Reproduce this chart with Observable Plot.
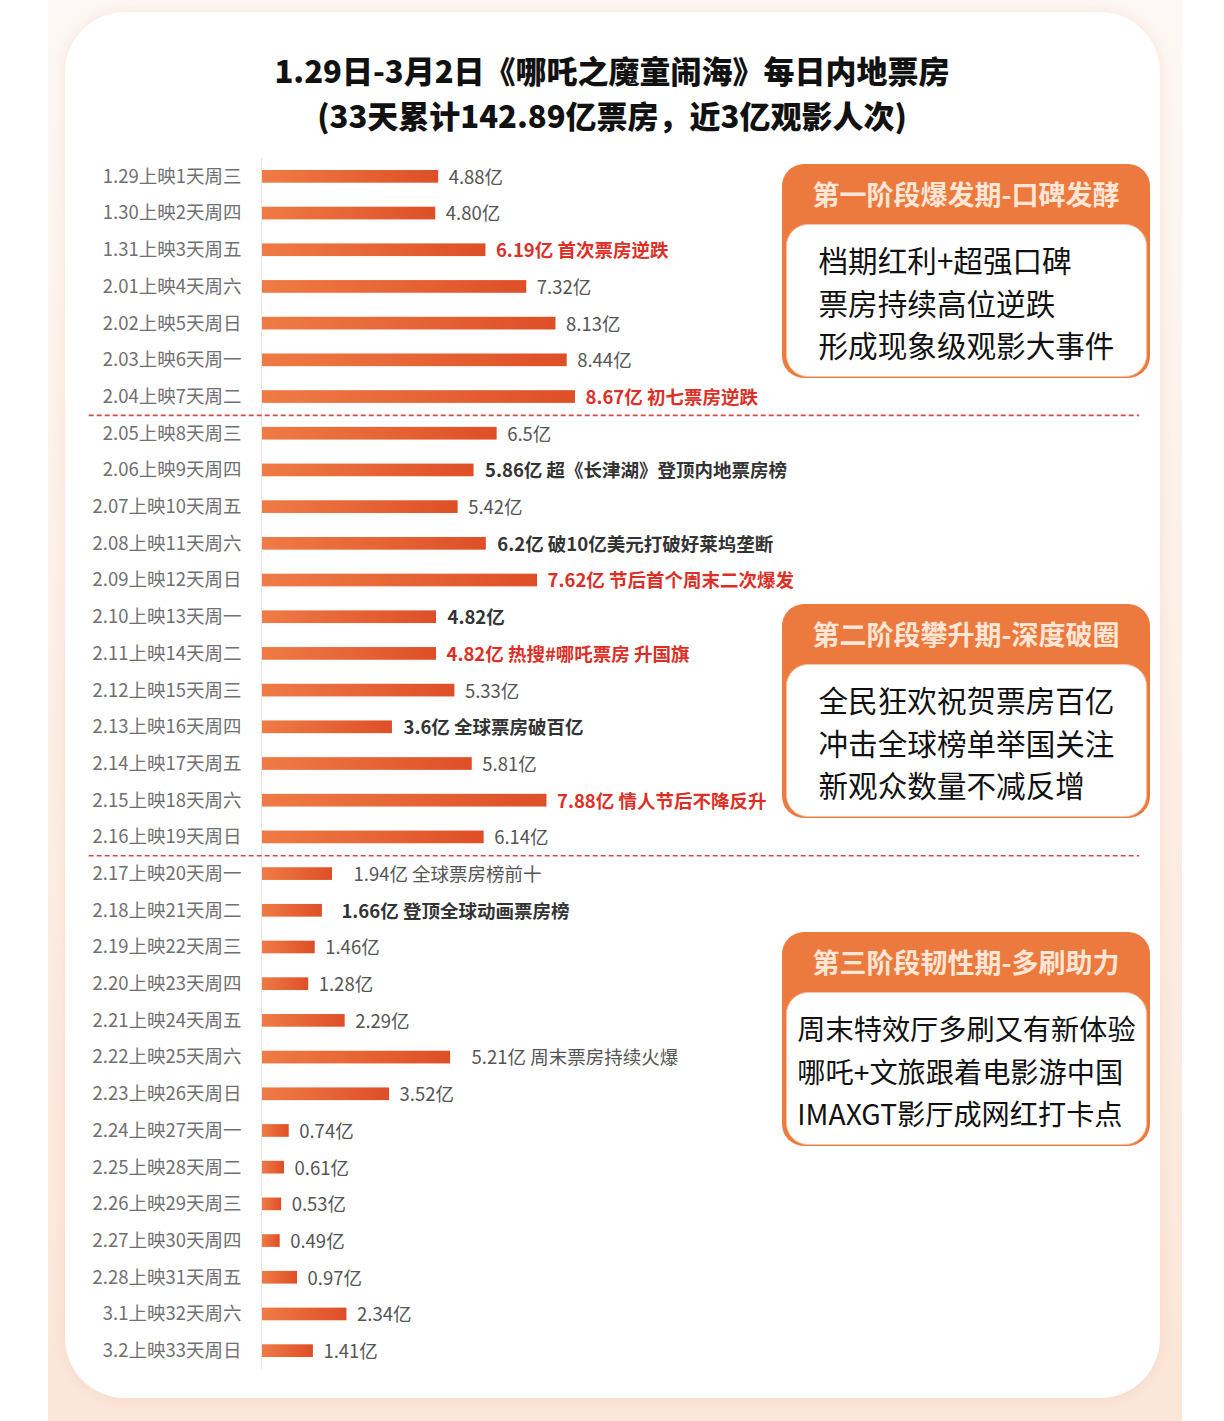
<!DOCTYPE html>
<html><head><meta charset="utf-8">
<script src="https://cdn.jsdelivr.net/npm/d3@7"></script>
<script src="https://cdn.jsdelivr.net/npm/@observablehq/plot@0.6"></script>
<style>
body{margin:0;width:1224px;height:1421px;position:relative;overflow:hidden;background:#fff;font-family:"Noto Sans CJK SC","Noto Sans",sans-serif;}
#bg{position:absolute;left:48px;top:0;width:1134px;height:1421px;background:linear-gradient(#fdf8f5,#fbe6d9);}
#card{position:absolute;left:65px;top:12px;width:1095px;height:1386px;background:#fff;border-radius:60px;box-shadow:0 0 14px rgba(240,170,140,0.25);}
#title{position:absolute;left:0;top:47px;width:1224px;text-align:center;font-weight:900;font-size:31px;line-height:45px;color:#111;}
#chart{position:absolute;left:0;top:0;}
.box{position:absolute;left:782px;width:368px;height:214px;background:#ec7a3e;border-radius:22px;}
.box .hd{position:absolute;left:0;right:0;top:11px;text-align:center;font-weight:700;font-size:27px;color:#fde6d6;line-height:38px}
.box .bd{position:absolute;left:4px;right:3px;top:60px;bottom:1px;background:#fff;border-radius:22px;border:1px solid #f2c6ad;text-align:center}
.box .bd div{display:inline-block;text-align:left;font-size:29.6px;line-height:42.5px;color:#111;margin-top:14px}
.box.p3 .bd div{font-size:28.2px}
</style>
</head><body>
<div id="bg"></div>
<div id="card"></div>
<div id="chart"></div>
<div id="title">1.29日-3月2日《哪吒之魔童闹海》每日内地票房<br>(33天累计142.89亿票房，近3亿观影人次)</div>
<div id="boxes"></div>
<script>
const days = ["1.29上映1天周三","1.30上映2天周四","1.31上映3天周五","2.01上映4天周六","2.02上映5天周日","2.03上映6天周一","2.04上映7天周二","2.05上映8天周三","2.06上映9天周四","2.07上映10天周五","2.08上映11天周六","2.09上映12天周日","2.10上映13天周一","2.11上映14天周二","2.12上映15天周三","2.13上映16天周四","2.14上映17天周五","2.15上映18天周六","2.16上映19天周日","2.17上映20天周一","2.18上映21天周二","2.19上映22天周三","2.20上映23天周四","2.21上映24天周五","2.22上映25天周六","2.23上映26天周日","2.24上映27天周一","2.25上映28天周二","2.26上映29天周三","2.27上映30天周四","2.28上映31天周五","3.1上映32天周六","3.2上映33天周日"];
const valueText = ["4.88","4.80","6.19","7.32","8.13","8.44","8.67","6.5","5.86","5.42","6.2","7.62","4.82","4.82","5.33","3.6","5.81","7.88","6.14","1.94","1.66","1.46","1.28","2.29","5.21","3.52","0.74","0.61","0.53","0.49","0.97","2.34","1.41"];
const notes = ["","","首次票房逆跌","","","","初七票房逆跌","","超《长津湖》登顶内地票房榜","","破10亿美元打破好莱坞垄断","节后首个周末二次爆发","","热搜#哪吒票房 升国旗","","全球票房破百亿","","情人节后不降反升","","全球票房榜前十","登顶全球动画票房榜","","","","周末票房持续火爆","","","","","","","",""];
const emphasis = ["","","highlight","","","","highlight","","key","","key","highlight","key","highlight","","key","","highlight","","","key","","","","","","","","","","","",""];
const phaseEnds = ["2.04上映7天周二","2.16上映19天周日"];
const phaseTitles = ["第一阶段爆发期-口碑发酵","第二阶段攀升期-深度破圈","第三阶段韧性期-多刷助力"];
const phaseLines = [
  ["档期红利+超强口碑","票房持续高位逆跌","形成现象级观影大事件"],
  ["全民狂欢祝贺票房百亿","冲击全球榜单举国关注","新观众数量不减反增"],
  ["周末特效厅多刷又有新体验","哪吒+文旅跟着电影游中国","IMAXGT影厅成网红打卡点"]
];

const data = days.map((d, i) => ({
  day: d,
  value: +valueText[i],
  label: valueText[i] + "亿" + (notes[i] ? " " + notes[i] : ""),
  kind: emphasis[i]
}));
const wideGap = new Set(["2.17上映20天周一","2.18上映21天周二","2.22上映25天周六"]);

const font = "'Noto Sans CJK SC', sans-serif";
const chart = Plot.plot({
  width: 1224, height: 1380,
  marginTop: 158, marginBottom: 11, marginLeft: 262, marginRight: 601,
  x: {domain: [0, 10], axis: null},
  y: {domain: days, padding: 0, round: false, label: null},
  style: {fontFamily: font, background: "transparent", overflow: "visible"},
  marks: [
    Plot.ruleX([0], {stroke: "#e4e4e4", dx: -1}),
    Plot.axisY({tickSize: 0, tickPadding: 21, fontSize: 18.5, color: "#707070", label: null}),
    Plot.ruleY(phaseEnds, {dy: 18.35, x1: -4.8, x2: 24.3, stroke: "#d64b4b", strokeWidth: 1.6, strokeDasharray: "5,3"}),
    Plot.barX(data, {x: "value", y: "day", fill: "url(#barGrad)", insetTop: 12, insetBottom: 12}),
    Plot.text(data, {filter: d => d.kind === "" && !wideGap.has(d.day), x: "value", y: "day", text: "label", textAnchor: "start", dx: 10, dy: 1, fontSize: 18.5, fill: "#555"}),
    Plot.text(data, {filter: d => d.kind === "" && wideGap.has(d.day), x: "value", y: "day", text: "label", textAnchor: "start", dx: 21, dy: 1, fontSize: 18.5, fill: "#555"}),
    Plot.text(data, {filter: d => d.kind === "key" && !wideGap.has(d.day), x: "value", y: "day", text: "label", textAnchor: "start", dx: 11, dy: 1, fontSize: 18.5, fontWeight: 700, fill: "#333"}),
    Plot.text(data, {filter: d => d.kind === "key" && wideGap.has(d.day), x: "value", y: "day", text: "label", textAnchor: "start", dx: 19, dy: 1, fontSize: 18.5, fontWeight: 700, fill: "#333"}),
    Plot.text(data, {filter: d => d.kind === "highlight", x: "value", y: "day", text: "label", textAnchor: "start", dx: 10, dy: 1, fontSize: 18.5, fontWeight: 700, fill: "#dc3027"})
  ]
});
d3.select(chart).insert("defs", ":first-child").html(
  '<linearGradient id="barGrad" x1="0" x2="1" y1="0" y2="0"><stop offset="0" stop-color="#ef7b45"/><stop offset="1" stop-color="#de4f27"/></linearGradient>'
);
document.getElementById("chart").appendChild(chart);

const boxTops = [164, 604, 932];
const boxes = document.getElementById("boxes");
phaseTitles.forEach((t, i) => {
  const b = document.createElement("div");
  b.className = "box p" + (i + 1);
  b.style.top = boxTops[i] + "px";
  b.innerHTML = `<div class="hd">${t}</div><div class="bd"><div>${phaseLines[i].join("<br>")}</div></div>`;
  boxes.appendChild(b);
});
</script>
</body></html>
